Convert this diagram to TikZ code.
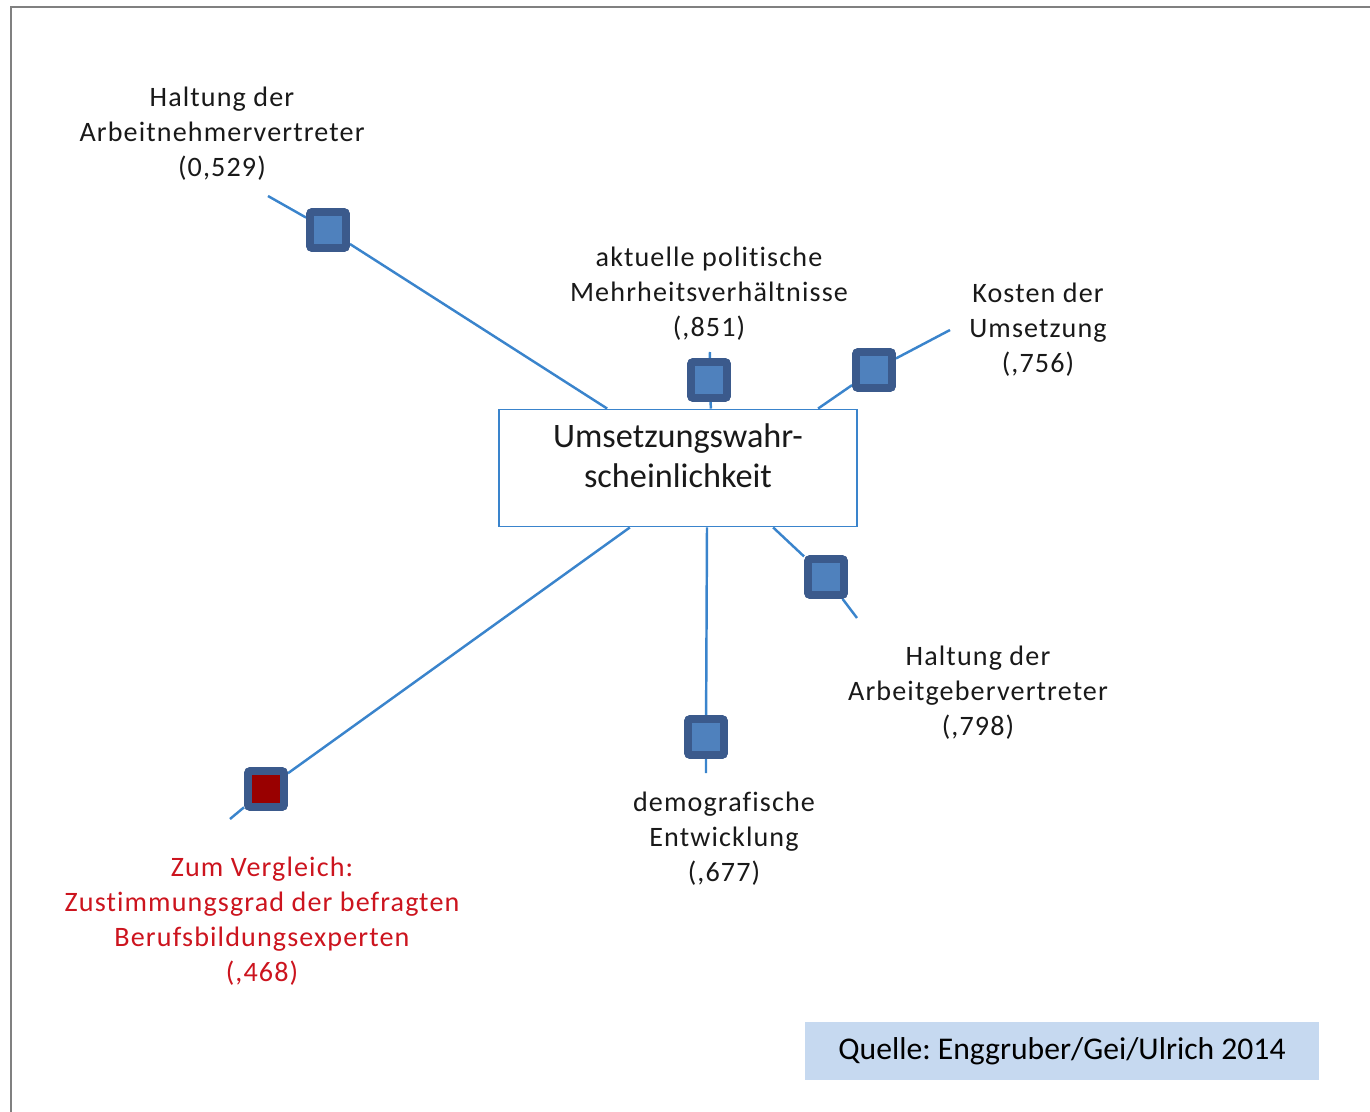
\documentclass[tikz,border=0pt]{standalone}
\usepackage{fontspec}
\setmainfont{Carlito}
\newfontfamily\labfont[LetterSpace=4,Ligatures=NoCommon]{Carlito}
\usetikzlibrary{positioning}
\definecolor{linie}{RGB}{58,132,204}
\definecolor{dunkel}{RGB}{59,90,140}
\definecolor{hell}{RGB}{79,129,189}
\definecolor{rotfeld}{RGB}{153,0,0}
\definecolor{rotschrift}{RGB}{204,20,30}
\definecolor{quellfarbe}{RGB}{198,217,240}
\tikzset{x=0.02cm,y=-0.02cm,
  marke/.style={draw=dunkel,fill=hell,line width=4.5pt,rounded corners=1.5pt,minimum size=0.72cm,inner sep=0pt},
  lab/.style={align=center,font=\labfont\fontsize{16}{19.9}\selectfont,text=black!90},
  verb/.style={draw=linie,line width=1.4pt}}

\begin{document}
\frenchspacing
\begin{tikzpicture}
              \useasboundingbox (0,0) rectangle (1370,1112);
              \draw[gray,line width=0.06cm] (11,1112) -- (11,7) -- (1370,7);

              \node[draw=linie,line width=1.1pt,minimum width=7.16cm,minimum height=2.34cm,
                    align=center,font=\fontsize{19.5}{22.7}\selectfont,text=black!90] (ziel) at (678,468)
                   {Umsetzungswahr-\\scheinlichkeit\\[-0.3cm]};

              \node[marke] (an) at (328,230) {};
              \node[marke] (pol) at (709,380) {};
              \node[marke] (kost) at (874,370) {};
              \node[marke] (ag) at (826,577) {};
              \node[marke] (demo) at (706,737) {};
              \node[marke,fill=rotfeld] (vgl) at (266,789) {};

              \coordinate (an-e) at (268,196);
              \coordinate (pol-e) at (710,352);
              \coordinate (kost-e) at (950,330);
              \coordinate (ag-e) at (857,618);
              \coordinate (demo-e) at (706,773);
              \coordinate (vgl-e) at (230,819);

              \path[verb]
              (ziel.140.5) -- (an) -- (an-e)
              (ziel.61.3) -- (pol) -- (pol-e)
              (ziel.23.6) -- (kost) -- (kost-e)
              (ziel.-32.6) -- (ag) -- (ag-e)
              (ziel.-64.4) -- (demo) -- (demo-e)
              (ziel.231.2) -- (vgl) -- (vgl-e)
              ;

              % Marken nochmal obendrauf
              \node[marke] at (an) {};
              \node[marke] at (pol) {};
              \node[marke] at (kost) {};
              \node[marke] at (ag) {};
              \node[marke] at (demo) {};
              \node[marke,fill=rotfeld] at (vgl) {};

              \node[lab] (an-t) at (222,134) {Haltung der\\Arbeitnehmervertreter\\(0,529)};
              \node[lab] (pol-t) at (709,294) {aktuelle politische\\Mehrheitsverhältnisse\\(,851)};
              \node[lab] (kost-t) at (1038,330) {Kosten der\\Umsetzung\\(,756)};
              \node[lab] (ag-t) at (978,693) {Haltung der\\Arbeitgebervertreter\\(,798)};
              \node[lab] (demo-t) at (724,839) {demografische\\Entwicklung\\(,677)};
              \node[lab,text=rotschrift] (vgl-t) at (262,921)
                   {Zum Vergleich:\\Zustimmungsgrad der befragten\\Berufsbildungsexperten\\(,468)};

              \node[fill=quellfarbe,minimum width=10.3cm,minimum height=1.16cm,
                    font=\fontsize{18}{21}\selectfont] (quelle) at (1062,1051)
                   {Quelle: Enggruber/Gei/Ulrich 2014};
            \end{tikzpicture}
\end{document}
